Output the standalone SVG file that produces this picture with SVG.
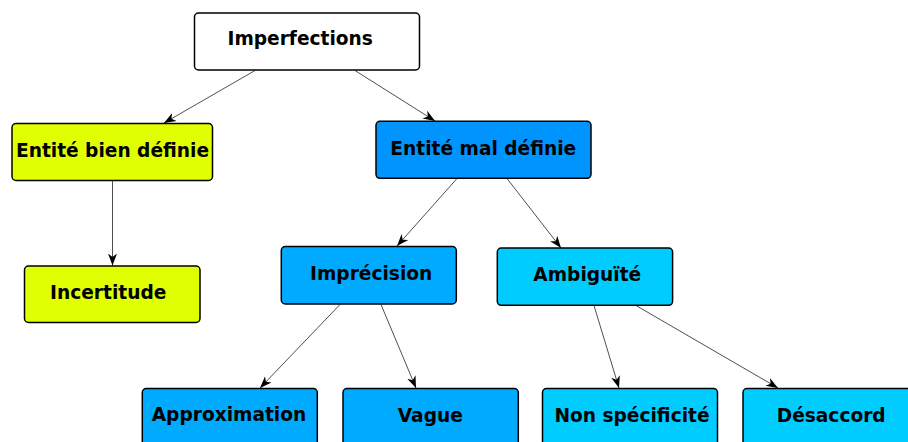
<svg xmlns="http://www.w3.org/2000/svg" width="908" height="442" viewBox="0 0 908 442">
<style>
.n{stroke:#000;stroke-width:1.5}
.t{font-family:"DejaVu Sans",sans-serif;font-weight:bold;font-size:18.6px;fill:#000;text-anchor:middle}
.c{stroke:#222;stroke-width:0.8;fill:none;marker-end:url(#ah)}
</style>
<defs>
<marker id="ah" markerUnits="userSpaceOnUse" markerWidth="14" markerHeight="10" refX="12" refY="5" orient="auto">
<path d="M0,0.5 L12,5 L0,9.5 L3.5,5 z" fill="#000"/>
</marker>
</defs>
<rect width="908" height="442" fill="#fff"/>
<g id="connectors">
<line class="c" x1="255" y1="70.5" x2="164" y2="123"/>
<line class="c" x1="355" y1="70.5" x2="435" y2="121"/>
<line class="c" x1="112.5" y1="181" x2="112.5" y2="265.5"/>
<line class="c" x1="457" y1="178.5" x2="397" y2="246"/>
<line class="c" x1="507" y1="178.5" x2="561" y2="248"/>
<line class="c" x1="340" y1="304.5" x2="260" y2="388"/>
<line class="c" x1="381" y1="304.5" x2="416" y2="388"/>
<line class="c" x1="594" y1="305.5" x2="619" y2="388"/>
<line class="c" x1="636" y1="305.5" x2="778" y2="388"/>
</g>
<g id="imperfections">
<rect class="n" x="194.5" y="13" width="225" height="57" rx="4" fill="#fff"/>
<text class="t" x="300.2" y="45">Imperfections</text>
</g>
<g id="entite-bien-definie">
<rect class="n" x="12" y="123.5" width="200.5" height="57" rx="4" fill="#e0ff00"/>
<text class="t" x="112.5" y="156.7">Entité bien définie</text>
</g>
<g id="incertitude">
<rect class="n" x="24.5" y="266" width="175.5" height="56.5" rx="4" fill="#e0ff00"/>
<text class="t" x="108.2" y="299.3">Incertitude</text>
</g>
<g id="entite-mal-definie">
<rect class="n" x="376" y="121.3" width="215" height="57" rx="4" fill="#0094ff"/>
<text class="t" x="483.3" y="155">Entité mal définie</text>
</g>
<g id="imprecision">
<rect class="n" x="281.3" y="246.5" width="175" height="57.5" rx="4" fill="#00aaff"/>
<text class="t" x="371.2" y="280">Imprécision</text>
</g>
<g id="ambiguite">
<rect class="n" x="497.3" y="248" width="175.3" height="57.3" rx="4" fill="#00ccff"/>
<text class="t" x="587.3" y="281">Ambiguïté</text>
</g>
<g id="approximation">
<rect class="n" x="142.3" y="388.5" width="175" height="57" rx="4" fill="#00aaff"/>
<text class="t" x="229" y="421.3">Approximation</text>
</g>
<g id="vague">
<rect class="n" x="343" y="388.5" width="175.3" height="57" rx="4" fill="#00aaff"/>
<text class="t" x="430.3" y="421.7">Vague</text>
</g>
<g id="non-specificite">
<rect class="n" x="542.5" y="388.5" width="175" height="57" rx="4" fill="#00ccff"/>
<text class="t" x="632" y="421.7">Non spécificité</text>
</g>
<g id="desaccord">
<rect class="n" x="743" y="388.5" width="175" height="57" rx="4" fill="#00ccff"/>
<text class="t" x="831.2" y="421.7">Désaccord</text>
</g>
</svg>
